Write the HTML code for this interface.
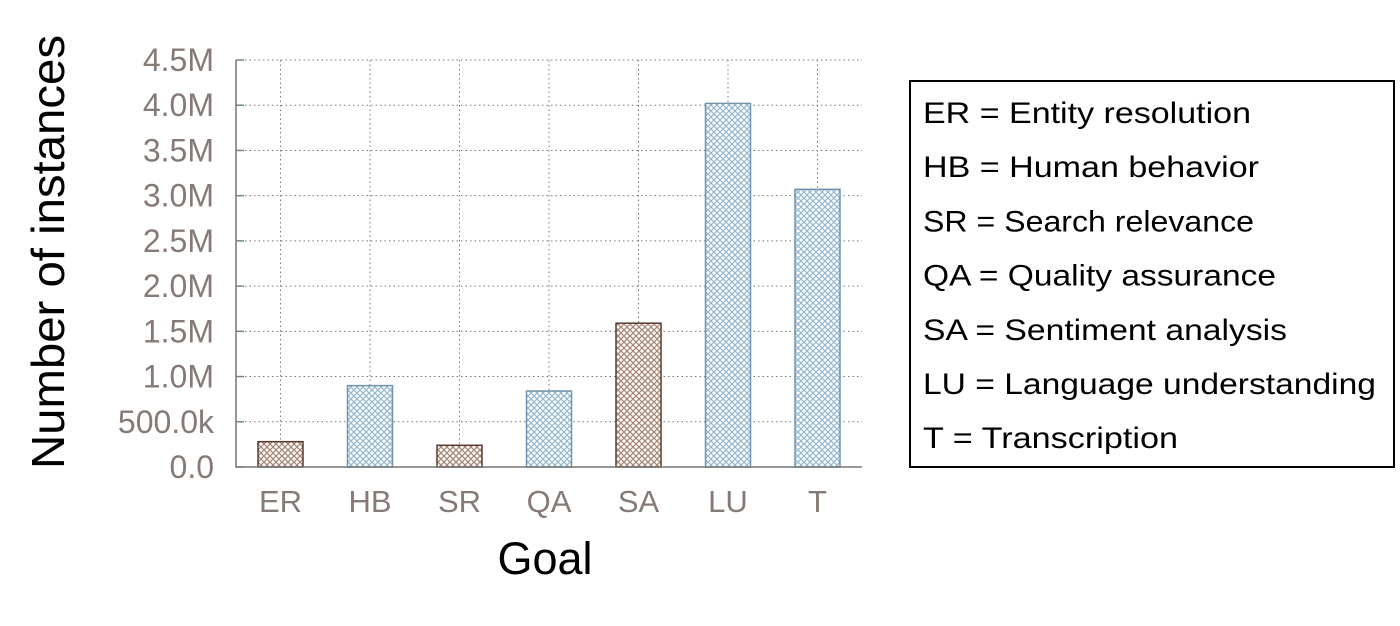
<!DOCTYPE html>
<html><head><meta charset="utf-8"><style>
body{margin:0;background:#fff;width:1400px;height:621px;overflow:hidden}
svg text{font-family:"Liberation Sans",sans-serif}
</style></head><body>
<svg id="chart" width="1400" height="621" xmlns="http://www.w3.org/2000/svg">
<defs>
<pattern id="hb" patternUnits="userSpaceOnUse" width="6" height="6">
<rect width="6" height="6" fill="#fff"/>
<path d="M0,0L6,6M6,0L0,6" stroke="#a88474" stroke-width="1.3"/>
</pattern>
<pattern id="hbl" patternUnits="userSpaceOnUse" width="6" height="6">
<rect width="6" height="6" fill="#fff"/>
<path d="M0,0L6,6M6,0L0,6" stroke="#93b8d0" stroke-width="1.3"/>
</pattern>
</defs>
<g id="grid"></g>
<g id="bars"></g>
<g id="axes"></g>
<text transform="translate(64,252) rotate(-90)" text-anchor="middle" font-size="46" textLength="434" lengthAdjust="spacingAndGlyphs" fill="#000">Number of instances</text>
<text x="545" y="574" text-anchor="middle" font-size="45" fill="#000">Goal</text>
<g>
<rect x="910" y="81" width="484" height="386" fill="#fff" stroke="#000" stroke-width="2"/>
<g id="legend-items"></g>
</g>
</svg>
<script>
const categories=["ER","HB","SR","QA","SA","LU","T"];
const values=[0.28,0.90,0.24,0.84,1.59,4.02,3.07];
const colorGroup=["brown","blue","brown","blue","brown","blue","blue"];
const tickValues=[0,0.5,1,1.5,2,2.5,3,3.5,4,4.5];
const tickLabels=["0.0","500.0k","1.0M","1.5M","2.0M","2.5M","3.0M","3.5M","4.0M","4.5M"];
const legendLines=["ER = Entity resolution","HB = Human behavior","SR = Search relevance","QA = Quality assurance","SA = Sentiment analysis","LU = Language understanding","T = Transcription"];
const legendWidths=[328,336,331,353,364,453,255];

const NS="http://www.w3.org/2000/svg";
const X0=236,X1=862,Y0=467,Ytop=60,YMAX=4.5;
const y=v=>Y0-(v/YMAX)*(Y0-Ytop);
const step=89.5,firstC=280.5;
const xc=i=>firstC+i*step;
const bw=45;
function mk(tag,attrs,parent){const e=document.createElementNS(NS,tag);for(const k in attrs)e.setAttribute(k,attrs[k]);parent.appendChild(e);return e;}
const grid=document.getElementById('grid'),bars=document.getElementById('bars'),axes=document.getElementById('axes');
tickValues.forEach((t,i)=>{
  const ty=y(t);
  if(i>0){const g=mk('line',{x1:X0,x2:X1,y1:ty,y2:ty,stroke:'#777','stroke-width':1,'stroke-dasharray':'1.5,3'},grid);
  
  }
  const tk=mk('line',{x1:X0,x2:X0+8,y1:ty,y2:ty,stroke:'#6a8898','stroke-width':1.5},axes);
  
  
  const tl=mk('text',{x:214,y:ty+11,'text-anchor':'end','font-size':32,fill:'#857a76'},axes);
  tl.textContent=tickLabels[i];
  
  
});
categories.forEach((c,i)=>{
  const g=mk('line',{x1:xc(i),x2:xc(i),y1:Ytop,y2:Y0,stroke:'#777','stroke-width':1,'stroke-dasharray':'1.5,3'},grid);
  
  
  const brown=colorGroup[i]==="brown";
  const r=mk('rect',{x:xc(i)-bw/2,y:y(values[i]),width:bw,height:Y0-y(values[i]),fill:brown?'url(#hb)':'url(#hbl)',stroke:brown?'#5a3a30':'#6f94ab','stroke-width':1.5},bars);
  
  
  const t=mk('text',{x:xc(i),y:512,'text-anchor':'middle','font-size':31,fill:'#857a76'},axes);
  t.textContent=c;
  
  
});
const ax=mk('path',{d:`M${X0},${Ytop}V${Y0}H${X1}`,fill:'none',stroke:'#777','stroke-width':1.5},axes);


const li=document.getElementById('legend-items');
legendLines.forEach((s,i)=>{
  const t=mk('text',{x:923,y:123+i*54.2,'font-size':30,fill:'#000',textLength:legendWidths[i],lengthAdjust:'spacingAndGlyphs'},li);
  t.textContent=s;
  
  
});
</script>
</body></html>
